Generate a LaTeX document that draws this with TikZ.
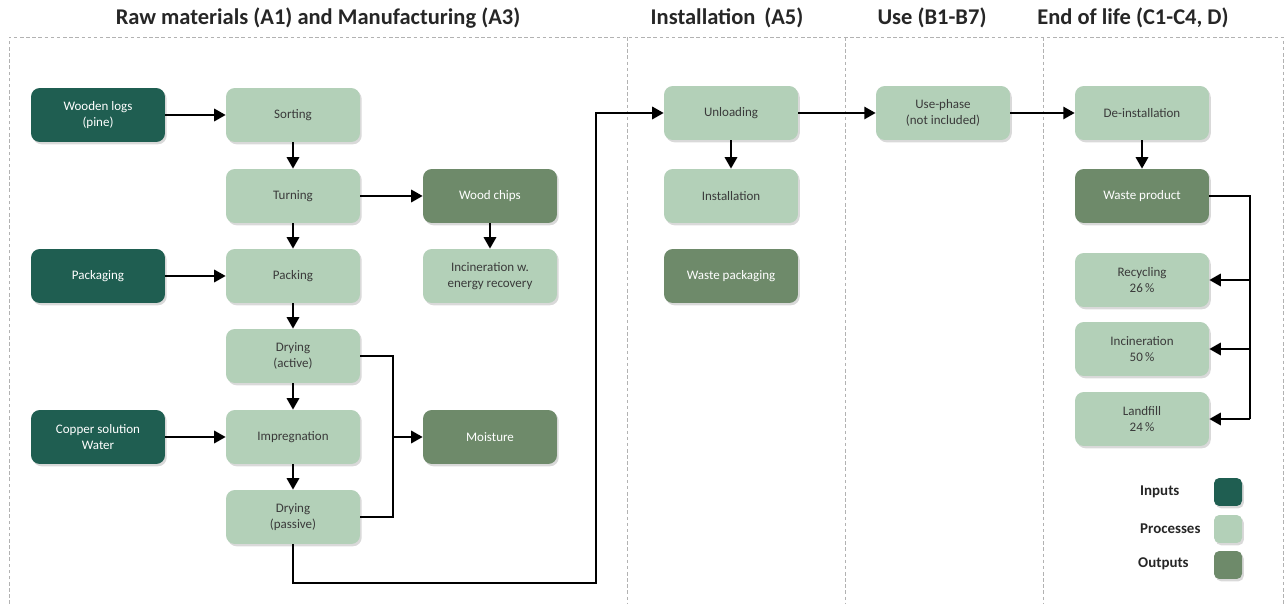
\documentclass[tikz,border=0pt]{standalone}
\usepackage{fontspec}
\setmainfont{Carlito}
\usetikzlibrary{arrows.meta,shadows}

\definecolor{inputgreen}{HTML}{1F5E51}
\definecolor{processgreen}{HTML}{B3D0B8}
\definecolor{outputgreen}{HTML}{6E8A6A}
\definecolor{textgray}{HTML}{3A3A3A}

\tikzset{
  box/.style={rounded corners=5pt, minimum width=2.68cm, minimum height=1.08cm,
    align=center, font=\fontsize{7.4}{9}\selectfont,
    drop shadow={shadow xshift=1pt, shadow yshift=-1.3pt, opacity=0.3}},
  inbox/.style={box, fill=inputgreen, text=white},
  procbox/.style={box, fill=processgreen, text=textgray},
  outbox/.style={box, fill=outputgreen, text=white},
  keybox/.style={rounded corners=3pt, minimum size=0.56cm, inner sep=0pt,
    drop shadow={shadow xshift=1pt, shadow yshift=-1.3pt, opacity=0.3}},
  keylabel/.style={anchor=west, font=\fontsize{8.5}{10}\selectfont\bfseries, text=black!85},
  flow/.style={-{Triangle[length=6.5pt,width=7pt]}, line width=1.25pt},
  pipe/.style={line width=1.25pt},
  phase/.style={font=\fontsize{12.8}{15}\selectfont\bfseries, text=black!85},
  phaseframe/.style={gray!60, dash pattern=on 2pt off 1.5pt, line width=0.4pt},
}

\begin{document}
\begin{tikzpicture}[x=0.02cm, y=-0.02cm]
    \useasboundingbox (0,0) rectangle (1285,604);

    % Phase frame and titles
    \draw[phaseframe] (9,604) -- (9,37) -- (1283,37) -- (1283,604);
    \foreach \sx in {627,845,1043}
        \draw[phaseframe] (\sx,37) -- (\sx,604);
    \node[phase] (rawtitle) at (318,18) {Raw materials (A1) and Manufacturing (A3)};
    \node[phase] (insttitle) at (727,18) {Installation\, (A5)};
    \node[phase] (usetitle) at (932,18) {Use (B1-B7)};
    \node[phase] (eoltitle) at (1133,18) {End of life (C1-C4, D)};

    % Inputs
    \node[inbox] (logs) at (98,115) {Wooden logs\\(pine)};
    \node[inbox] (pack) at (98,276) {Packaging};
    \node[inbox] (copper) at (98,437) {Copper solution\\Water};

    % Manufacturing steps
    \node[procbox] (sort) at (293,115) {Sorting};
    \node[procbox] (turn) at (293,196) {Turning};
    \node[procbox] (packing) at (293,276) {Packing};
    \node[procbox] (dryact) at (293,356) {Drying\\(active)};
    \node[procbox] (impreg) at (293,437) {Impregnation};
    \node[procbox] (drypas) at (293,517) {Drying\\(passive)};

    % Manufacturing outputs
    \node[outbox] (chips) at (490,196) {Wood chips};
    \node[procbox] (incen) at (490,276) {Incineration w.\\energy recovery};
    \node[outbox] (moist) at (490,437) {Moisture};

    % Installation
    \node[procbox] (unload) at (731,113) {Unloading};
    \node[procbox] (install) at (731,196) {Installation};
    \node[outbox] (wastepack) at (731,276) {Waste packaging};

    % Use
    \node[procbox] (usephase) at (943,113) {Use-phase\\(not included)};

    % End of life
    \node[procbox] (deinst) at (1142,113) {De-installation};
    \node[outbox] (wasteprod) at (1142,196) {Waste product};
    \node[procbox] (recyc) at (1142,280) {Recycling\\26\,\%};
    \node[procbox] (incin) at (1142,349) {Incineration\\50\,\%};
    \node[procbox] (landf) at (1142,419) {Landfill\\24\,\%};

    % Legend
    \node[keybox, fill=inputgreen] (keyin) at (1228,492) {};
    \node[keybox, fill=processgreen] (keyproc) at (1228,529) {};
    \node[keybox, fill=outputgreen] (keyout) at (1228,565) {};
    \node[keylabel] (keyinlabel) at (1134,492) {Inputs};
    \node[keylabel] (keyproclabel) at (1134,529) {Processes};
    \node[keylabel] (keyoutlabel) at (1132,564) {Outputs};

    % Turning points of the connectors
    \coordinate (wetjoin) at (393,437);
    \coordinate (lowturn) at (596,583);
    \coordinate (wastebus) at (1250,419);

    % Draw the flows
    \draw[flow] (logs) -- (sort);
    \draw[flow] (sort) -- (turn);
    \draw[flow] (turn) -- (chips);
    \draw[flow] (chips) -- (incen);
    \draw[flow] (turn) -- (packing);
    \draw[flow] (pack) -- (packing);
    \draw[flow] (packing) -- (dryact);
    \draw[flow] (dryact) -- (impreg);
    \draw[flow] (copper) -- (impreg);
    \draw[flow] (impreg) -- (drypas);
    \draw[pipe] (dryact.east) -| (wetjoin) |- (drypas.east);
    \draw[flow] (wetjoin) -- (moist);
    \draw[flow] (drypas.south) |- (lowturn) |- (unload.west);
    \draw[flow] (unload) -- (install);
    \draw[flow] (unload) -- (usephase);
    \draw[flow] (usephase) -- (deinst);
    \draw[flow] (deinst) -- (wasteprod);
    \draw[pipe] (wasteprod.east) -| (wastebus);
    \draw[flow] (wastebus |- recyc.east) -- (recyc.east);
    \draw[flow] (wastebus |- incin.east) -- (incin.east);
    \draw[flow] (wastebus) -- (landf.east);

\end{tikzpicture}
\end{document}
